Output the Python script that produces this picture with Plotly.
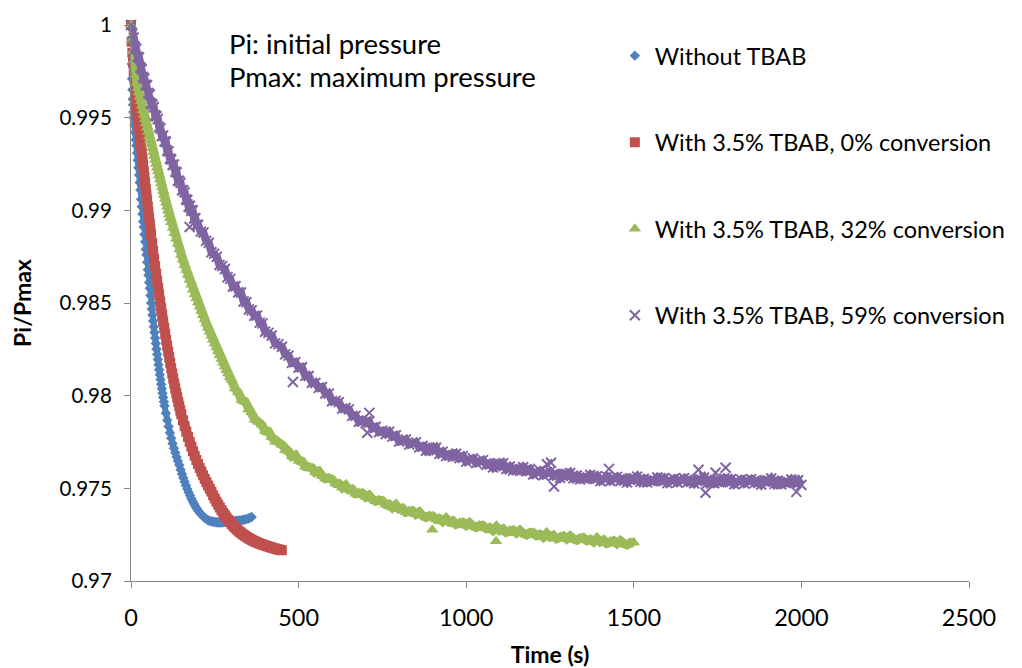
import plotly.graph_objects as go

FONT = "Lato"

series_names = ["Without TBAB", "With 3.5% TBAB, 0% conversion",
                "With 3.5% TBAB, 32% conversion", "With 3.5% TBAB, 59% conversion"]

# ---- Without TBAB ----
t_blue = [0, 1, 2, 3, 4, 5, 6, 7, 8, 10, 12, 14, 16, 18, 20, 22, 24, 26, 28, 30, 32, 34, 36, 38, 40,
          42, 44, 46, 48, 50, 52, 54, 56, 58, 60, 62, 64, 66, 68, 70, 72, 74, 76, 78, 80, 82, 84, 86,
          88, 90, 92, 94, 96, 98, 100, 104, 108, 112, 116, 120, 124, 128, 132, 136, 140, 144, 148,
          152, 156, 160, 164, 168, 172, 176, 180, 184, 188, 192, 196, 200, 205, 210, 215, 220, 225,
          230, 235, 240, 245, 250, 255, 260, 265, 270, 275, 280, 285, 290, 295, 300, 305, 310, 315,
          320, 325, 330, 335, 340, 345, 350, 355, 360]
v_blue = [1.0000, 0.9991, 0.9979, 0.9971, 0.9965, 0.9960, 0.9957, 0.9953, 0.9950, 0.9946, 0.9942,
          0.9938, 0.9935, 0.9931, 0.9927, 0.9923, 0.9919, 0.9915, 0.9911, 0.9906, 0.9902, 0.9898,
          0.9894, 0.9891, 0.9887, 0.9883, 0.9879, 0.9876, 0.9872, 0.9868, 0.9865, 0.9861, 0.9858,
          0.9854, 0.98500, 0.98467, 0.98435, 0.98403, 0.98372, 0.98341, 0.98311, 0.98281, 0.98252,
          0.98223, 0.98195, 0.98167, 0.98140, 0.98113, 0.98087, 0.98062, 0.98037, 0.98013, 0.97990,
          0.97967, 0.97945, 0.97905, 0.97868, 0.97833, 0.97800, 0.97770, 0.97742, 0.97716, 0.97692,
          0.97669, 0.97647, 0.97626, 0.97600, 0.97578, 0.97556, 0.97535, 0.97515, 0.97496, 0.97478,
          0.97461, 0.97445, 0.97430, 0.97416, 0.97403, 0.97391, 0.97380, 0.97368, 0.97358, 0.97349,
          0.97341, 0.97334, 0.97328, 0.97324, 0.97322, 0.97320, 0.97318, 0.97317, 0.97316, 0.97316,
          0.97316, 0.97317, 0.97318, 0.97319, 0.97320, 0.97321, 0.97322, 0.97323, 0.97324, 0.97325,
          0.97326, 0.97327, 0.97328, 0.97330, 0.97332, 0.97334, 0.97337, 0.97341, 0.97345]

# ---- With 3.5% TBAB, 0% conversion ----
t_red = [0, 2, 4, 6, 8, 10, 12, 14, 16, 18, 20, 22, 24, 26, 28, 30, 32, 34, 36, 38, 40, 42, 44, 46,
         48, 50, 52, 54, 56, 58, 60, 63, 66, 69, 72, 75, 78, 81, 84, 87, 90, 93, 96, 99, 102, 105,
         108, 111, 114, 117, 120, 123, 126, 129, 132, 135, 138, 141, 144, 147, 150, 155, 160, 165,
         170, 175, 180, 185, 190, 195, 200, 205, 210, 215, 220, 225, 230, 235, 240, 245, 250, 255,
         260, 265, 270, 275, 280, 285, 290, 295, 300, 305, 310, 315, 320, 325, 330, 335, 340, 345,
         350, 355, 360, 365, 370, 375, 380, 385, 390, 395, 400, 405, 410, 415, 420, 425, 430, 435,
         440, 445, 450]
v_red = [1.00000, 0.99910, 0.99850, 0.99798, 0.99750, 0.99706, 0.99665, 0.99626, 0.99588, 0.99551,
         0.99515, 0.99480, 0.99445, 0.99411, 0.99378, 0.99345, 0.99312, 0.99279, 0.99246, 0.99213,
         0.99180, 0.99148, 0.99116, 0.99084, 0.99052, 0.99020, 0.98989, 0.98958, 0.98928, 0.98898,
         0.98868, 0.98824, 0.98781, 0.98739, 0.98698, 0.98658, 0.98619, 0.98581, 0.98543, 0.98506,
         0.98470, 0.98434, 0.98399, 0.98365, 0.98332, 0.98300, 0.98268, 0.98237, 0.98207, 0.98177,
         0.98148, 0.98120, 0.98092, 0.98065, 0.98039, 0.98013, 0.97990, 0.97966, 0.97943, 0.97921,
         0.97900, 0.97867, 0.97836, 0.97806, 0.97778, 0.97751, 0.97725, 0.97700, 0.97676, 0.97653,
         0.97631, 0.97610, 0.97590, 0.97570, 0.97551, 0.97533, 0.97515, 0.97498, 0.97482, 0.97462,
         0.97445, 0.97428, 0.97412, 0.97397, 0.97382, 0.97368, 0.97355, 0.97342, 0.97330, 0.97319,
         0.97308, 0.97298, 0.97289, 0.97280, 0.97272, 0.97264, 0.97257, 0.97250, 0.97244, 0.97238,
         0.97232, 0.97227, 0.97222, 0.97217, 0.97213, 0.97209, 0.97205, 0.97201, 0.97198, 0.97195,
         0.97192, 0.97189, 0.97186, 0.97183, 0.97180, 0.97177, 0.97175, 0.97172, 0.97170, 0.97168,
         0.97166]

# ---- With 3.5% TBAB, 32% conversion ----
t_green = [0, 3, 6, 9, 12, 15, 18, 21, 24, 27, 30, 33, 36, 39, 42, 45, 48, 51, 54, 57, 60, 63, 66,
           69, 72, 75, 78, 81, 84, 87, 90, 93, 96, 99, 102, 105, 108, 111, 114, 117, 120, 125, 130,
           135, 140, 145, 150, 155, 160, 165, 170, 175, 180, 185, 190, 195, 200, 205, 210, 215, 220,
           225, 230, 235, 240, 245, 250, 255, 260, 265, 270, 275, 280, 285, 290, 295,
           300, 310, 320, 330, 340, 350, 360, 370, 380, 390, 400, 410, 420, 430, 440, 450, 460, 470,
           480, 490, 500, 510, 520, 530, 540, 550, 560, 570, 580, 590, 600, 610, 620, 630, 640, 650,
           660, 670, 680, 690, 700, 710, 720, 730, 740, 750, 760, 770, 780, 790, 800, 810, 820, 830,
           840, 850, 860, 870, 880, 890, 900, 910, 920, 930, 940, 950, 960, 970, 980, 990, 1000,
           1010, 1020, 1030, 1040, 1050, 1060, 1070, 1080, 1090, 1100, 1110, 1120, 1130, 1140, 1150,
           1160, 1170, 1180, 1190, 1200, 1210, 1220, 1230, 1240, 1250, 1260, 1270, 1280, 1290, 1300,
           1310, 1320, 1330, 1340, 1350, 1360, 1370, 1380, 1390, 1400, 1410, 1420, 1430, 1440, 1450,
           1460, 1470, 1480, 1490, 1500]
v_green = [1.00000, 0.99920, 0.99860, 0.99810, 0.99770, 0.99730, 0.99690, 0.99660, 0.99636, 0.99612,
           0.99588, 0.99564, 0.99540, 0.99516, 0.99492, 0.99469, 0.99446, 0.99423, 0.99400, 0.99378,
           0.99356, 0.99335, 0.99314, 0.99293, 0.99272, 0.99251, 0.99230, 0.99209, 0.99188, 0.99167,
           0.99146, 0.99125, 0.99104, 0.99083, 0.99062, 0.99041, 0.99020, 0.98999, 0.98978, 0.98957,
           0.98936, 0.98906, 0.98876, 0.98847, 0.98818, 0.98789, 0.98761, 0.98733, 0.98705, 0.98678,
           0.98651, 0.98624, 0.98598, 0.98572, 0.98546, 0.98525, 0.98503, 0.98480, 0.98457, 0.98434,
           0.98411, 0.98389, 0.98367, 0.98345, 0.98323, 0.98302, 0.98281, 0.98260, 0.98239, 0.98218,
           0.98198, 0.98178, 0.98158, 0.98138, 0.98119, 0.98100,
           0.98086, 0.98039, 0.98017, 0.97976, 0.97969, 0.97926, 0.97910, 0.97870, 0.97859, 0.97843,
           0.97809, 0.97807, 0.97775, 0.97752, 0.97748, 0.97735, 0.97706, 0.97699, 0.97672, 0.97679,
           0.97649, 0.97646, 0.97617, 0.97617, 0.97610, 0.97586, 0.97592, 0.97567, 0.97552, 0.97555,
           0.97548, 0.97526, 0.97525, 0.97504, 0.97517, 0.97493, 0.97495, 0.97471, 0.97476, 0.97474,
           0.97454, 0.97463, 0.97442, 0.97430, 0.97436, 0.97432, 0.97412, 0.97414, 0.97396, 0.97411,
           0.97389, 0.97393, 0.97371, 0.97378, 0.97378, 0.97360, 0.97372, 0.97353, 0.97343, 0.97351,
           0.97350, 0.97333, 0.97337, 0.97321, 0.97338, 0.97318, 0.97324, 0.97305, 0.97314, 0.97316,
           0.97300, 0.97314, 0.97297, 0.97289, 0.97299, 0.97299, 0.97283, 0.97288, 0.97273, 0.97292,
           0.97273, 0.97281, 0.97262, 0.97272, 0.97274, 0.97259, 0.97273, 0.97257, 0.97249, 0.97260,
           0.97260, 0.97245, 0.97251, 0.97237, 0.97256, 0.97238, 0.97246, 0.97228, 0.97238, 0.97242,
           0.97227, 0.97242, 0.97227, 0.97220, 0.97231, 0.97233, 0.97218, 0.97224, 0.97211, 0.97230,
           0.97212, 0.97221, 0.97203, 0.97213, 0.97217, 0.97202, 0.97217, 0.97202, 0.97195, 0.97207,
           0.97208]
t_green_out = [899, 1089]
v_green_out = [0.97276, 0.97215]

# ---- With 3.5% TBAB, 59% conversion ----
t_purple = [0, 4, 8, 12, 16, 20, 24, 28, 32, 36, 40, 44, 48, 52, 56, 60, 64, 68, 72, 76, 80, 84, 88,
            92, 96, 100, 104, 108, 112, 116, 120, 124, 128, 132, 136, 140, 144, 148, 152, 156, 160,
            164, 168, 172, 176, 180, 184, 188, 192, 196, 200, 208, 216, 224, 232, 240, 248, 256, 264,
            272, 280, 288, 296, 304, 312, 320, 328, 336, 344, 352, 360, 368, 376, 384, 392, 400,
            410, 420, 430, 440, 450, 460, 470, 480, 490, 500, 510, 520, 530, 540, 550, 560, 570, 580,
            590, 600, 610, 620, 630, 640, 650, 660, 670, 680, 690, 700, 710, 720, 730, 740, 750, 760,
            770, 780, 790, 800, 810, 820, 830, 840, 850, 860, 870, 880, 890, 900, 910, 920, 930, 940,
            950, 960, 970, 980, 990, 1000, 1010, 1020, 1030, 1040, 1050, 1060, 1070, 1080, 1090,
            1100, 1110, 1120, 1130, 1140, 1150, 1160, 1170, 1180, 1190, 1200, 1210, 1220, 1230, 1240,
            1250, 1260, 1270, 1280, 1290, 1300, 1310, 1320, 1330, 1340, 1350, 1360, 1370, 1380, 1390,
            1400, 1410, 1420, 1430, 1440, 1450, 1460, 1470, 1480, 1490, 1500, 1510, 1520, 1530, 1540,
            1550, 1560, 1570, 1580, 1590, 1600, 1610, 1620, 1630, 1640, 1650, 1660, 1670, 1680, 1690,
            1700, 1710, 1720, 1730, 1740, 1750, 1760, 1770, 1780, 1790, 1800, 1810, 1820, 1830, 1840,
            1850, 1860, 1870, 1880, 1890, 1900, 1910, 1920, 1930, 1940, 1950, 1960, 1970, 1980, 1990,
            2000]
v_purple = [1.00000, 0.99954, 0.99932, 0.99880, 0.99871, 0.99829, 0.99824, 0.99771, 0.99763, 0.99720,
            0.99711, 0.99678, 0.99675, 0.99633, 0.99625, 0.99576, 0.99570, 0.99556, 0.99513, 0.99508,
            0.99493, 0.99450, 0.99441, 0.99401, 0.99403, 0.99371, 0.99370, 0.99321, 0.99318, 0.99279,
            0.99274, 0.99245, 0.99247, 0.99209, 0.99205, 0.99160, 0.99158, 0.99148, 0.99109, 0.99108,
            0.99097, 0.99059, 0.99055, 0.99019, 0.99025, 0.98997, 0.99000, 0.98956, 0.98957, 0.98922,
            0.98921, 0.98885, 0.98880, 0.98835, 0.98825, 0.98774, 0.98766, 0.98750, 0.98705, 0.98699,
            0.98683, 0.98639, 0.98630, 0.98589, 0.98590, 0.98558, 0.98557, 0.98508, 0.98504, 0.98465,
            0.98460, 0.98431, 0.98432, 0.98394, 0.98390, 0.98345,
            0.98339, 0.98325, 0.98282, 0.98278, 0.98264, 0.98223, 0.98216, 0.98177, 0.98181, 0.98151,
            0.98153, 0.98107, 0.98106, 0.98070, 0.98068, 0.98042, 0.98047, 0.98012, 0.98011, 0.97970,
            0.97972, 0.97965, 0.97930, 0.97933, 0.97926, 0.97891, 0.97891, 0.97859, 0.97869, 0.97852,
            0.97862, 0.97824, 0.97832, 0.97804, 0.97810, 0.97793, 0.97806, 0.97779, 0.97786, 0.97753,
            0.97763, 0.97764, 0.97736, 0.97747, 0.97748, 0.97721, 0.97728, 0.97703, 0.97720, 0.97704,
            0.97719, 0.97686, 0.97698, 0.97674, 0.97684, 0.97670, 0.97687, 0.97663, 0.97674, 0.97644,
            0.97657, 0.97661, 0.97636, 0.97649, 0.97652, 0.97627, 0.97636, 0.97613, 0.97633, 0.97618,
            0.97635, 0.97604, 0.97618, 0.97596, 0.97608, 0.97596, 0.97614, 0.97592, 0.97604, 0.97575,
            0.97589, 0.97595, 0.97571, 0.97586, 0.97590, 0.97567, 0.97578, 0.97557, 0.97578, 0.97565,
            0.97583, 0.97554, 0.97569, 0.97549, 0.97562, 0.97552, 0.97572, 0.97552, 0.97566, 0.97539,
            0.97555, 0.97562, 0.97540, 0.97556, 0.97562, 0.97540, 0.97552, 0.97532, 0.97555, 0.97543,
            0.97563, 0.97535, 0.97551, 0.97532, 0.97547, 0.97538, 0.97558, 0.97539, 0.97554, 0.97528,
            0.97544, 0.97552, 0.97531, 0.97548, 0.97554, 0.97533, 0.97546, 0.97527, 0.97549, 0.97538,
            0.97558, 0.97529, 0.97546, 0.97527, 0.97542, 0.97532, 0.97553, 0.97534, 0.97549, 0.97522,
            0.97539, 0.97547, 0.97526, 0.97542, 0.97549, 0.97528, 0.97541, 0.97521, 0.97544, 0.97533,
            0.97553, 0.97524, 0.97541, 0.97522, 0.97537, 0.97528, 0.97548, 0.97529, 0.97544, 0.97518]
t_purple_out = [175, 483, 705, 711, 1241, 1253, 1262, 1426, 1693, 1714, 1744, 1774, 1985]
v_purple_out = [0.98910, 0.98074, 0.97800, 0.97907, 0.97630, 0.97638, 0.97510, 0.97605, 0.97600,
                0.97476, 0.97584, 0.97611, 0.97481]

x_ticks = [0, 500, 1000, 1500, 2000, 2500]
y_ticks = [0.97, 0.975, 0.98, 0.985, 0.99, 0.995, 1.0]
y_tick_labels = ["0.97", "0.975", "0.98", "0.985", "0.99", "0.995", "1"]
notes = ["Pi: initial pressure", "Pmax: maximum pressure"]

colors = ["#4F81BD", "#C0504D", "#9BBB59", "#8064A2"]
symbols = ["diamond", "square", "triangle-up", "x-thin"]
sizes = [8, 10, 11, 10]
band_widths = [6, 9, 9, 8]
main_data = [(t_blue, v_blue), (t_red, v_red), (t_green, v_green), (t_purple, v_purple)]
extra_data = [([], []), ([], []), (t_green_out, v_green_out), (t_purple_out, v_purple_out)]

fig = go.Figure()
for i, ((tt, vv), (to, vo)) in enumerate(zip(main_data, extra_data)):
    # dense-sampling band (the measured points lie so close together they form a band)
    fig.add_trace(go.Scatter(x=tt, y=vv, mode="lines", showlegend=False, hoverinfo="skip",
                             legendgroup=str(i),
                             line=dict(color=colors[i], width=band_widths[i]), cliponaxis=False))
    marker = dict(symbol=symbols[i], size=sizes[i], color=colors[i])
    if symbols[i] == "x-thin":
        marker["line"] = dict(width=2, color=colors[i])
    else:
        marker["line"] = dict(width=0)
    fig.add_trace(go.Scatter(x=list(tt) + list(to), y=list(vv) + list(vo), mode="markers",
                             name=series_names[i], legendgroup=str(i), marker=marker,
                             cliponaxis=False))

axis_common = dict(showline=True, linecolor="#868686", linewidth=1, ticks="outside",
                   tickcolor="#868686", ticklen=6, showgrid=False, zeroline=False,
                   automargin=False)

# the page body adds an 8 px offset, so the figure is sized to the visible area
fig.update_layout(
    width=1014, height=660,
    margin=dict(l=123, r=51, t=17, b=87),
    paper_bgcolor="white", plot_bgcolor="white",
    font=dict(family=FONT, color="#000000"),
    xaxis=dict(range=[0, 2500], tickvals=x_ticks, **axis_common,
               tickfont=dict(family=FONT, size=23.5, color="#000000"), ticklabelstandoff=10,
               title=dict(text="<b>Time (s)</b>", font=dict(family=FONT, size=23), standoff=19)),
    yaxis=dict(range=[0.97, 1.0], tickvals=y_ticks, ticktext=y_tick_labels, **axis_common,
               tickfont=dict(family=FONT, size=20.5, color="#000000"), ticklabelstandoff=8,
               title=dict(text="<b>Pi/Pmax</b>", font=dict(family=FONT, size=23), standoff=33)),
    legend=dict(x=0.5774, y=0.984, xanchor="left", yanchor="top",
                font=dict(family=FONT, size=23.5, color="#000000"),
                tracegroupgap=53, bgcolor="rgba(0,0,0,0)", itemwidth=30),
    showlegend=True,
)

for k, txt in enumerate(notes):
    fig.add_annotation(text=txt, xref="paper", yref="paper", x=0.114, y=[0.966, 0.9065][k],
                       xanchor="left", yanchor="middle", showarrow=False,
                       font=dict(family=FONT, size=27.5, color="#000000"))

fig.write_html("out.html")
